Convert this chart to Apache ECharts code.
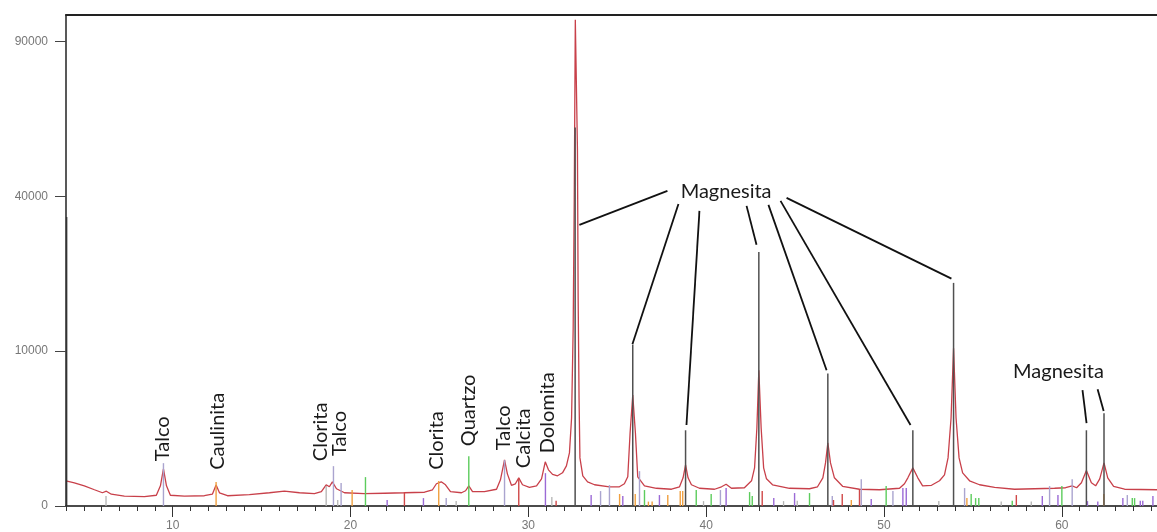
<!DOCTYPE html>
<html><head><meta charset="utf-8">
<script src="https://cdn.jsdelivr.net/npm/echarts@6/dist/echarts.min.js"></script>
<style>html,body{margin:0;padding:0;background:#fff}#c{width:1157px;height:532px}</style>
</head><body><div id="c"></div>
<script>
// ---- tick labels ----
const xTickLabels = [10, 20, 30, 40, 50, 60];
const yTickLabels = [0, 10000, 40000, 90000];

// ---- measured profile (2theta deg, counts) ----
const profile2Theta = [4.0,4.47,5.03,5.6,6.05,6.27,6.55,7.28,8.41,9.08,9.31,9.48,9.65,9.87,10.66,11.78,12.23,12.44,12.63,13.08,14.31,15.44,16.28,17.13,17.97,18.36,18.63,18.81,18.98,19.21,19.66,20.78,21.91,23.03,24.16,24.61,24.83,25.1,25.34,25.62,26.24,26.47,26.65,26.86,27.53,28.21,28.43,28.66,28.82,29.05,29.27,29.46,29.67,30.06,30.46,30.74,30.95,31.13,31.36,31.64,31.92,32.14,32.31,32.43,32.52,32.58,32.64,32.71,32.76,32.8,32.85,32.9,33.06,33.33,33.72,34.56,35.12,35.4,35.59,35.72,35.87,36.02,36.15,36.53,37.2,38.05,38.5,38.7,38.84,38.98,39.17,39.62,40.47,40.86,41.12,41.42,42.15,42.55,42.72,42.85,42.96,43.09,43.23,43.39,43.73,44.68,45.81,46.26,46.56,46.71,46.84,46.99,47.21,47.67,48.62,49.75,50.87,51.15,51.34,51.62,51.9,52.17,52.67,53.12,53.4,53.6,53.77,53.91,54.05,54.22,54.42,54.81,55.37,56.22,57.34,58.46,59.59,60.21,60.58,60.83,61.1,61.38,61.66,61.9,62.13,62.37,62.58,62.91,63.53,65.35];
const profileCounts = [265,224,170,110,73,91,58,40,36,48,170,575,170,48,40,44,58,182,73,44,53,73,91,73,63,85,188,154,244,124,73,63,68,73,79,110,206,244,188,85,73,97,170,85,85,117,286,887,431,179,206,331,188,146,170,308,812,545,418,380,459,672,1175,3224,13150,39310,98600,97800,53090,17940,4851,965,380,244,188,154,154,206,355,2222,5123,2222,355,170,131,117,154,331,705,331,188,131,117,154,197,131,139,265,607,2536,7683,2536,607,308,188,131,124,154,331,775,1657,775,331,162,117,110,131,206,331,607,331,170,179,265,405,965,3224,10360,3224,965,459,265,188,146,117,124,131,139,170,139,224,524,224,170,308,775,331,162,117,110];

// first recorded point (dark line at the start of the scan)
const scanStart = [[4.02, 34800]];

// ---- reference stick patterns [2theta, counts] ----
const sticksMagnesita = [[32.63,59720],[35.87,10850],[38.84,2390],[42.96,26890],[46.84,7315],[51.62,2390],[53.91,20750],[61.38,2390],[62.37,3577]];
const sticksTalco = [[9.48,765],[19.04,662],[19.47,219],[25.38,26],[28.66,875],[34.06,93],[34.56,182],[36.25,507],[40.8,106],[47.09,41],[48.72,301],[50.5,93],[54.53,134],[59.31,165],[60.58,301],[63.68,50]];
const sticksGris = [[6.25,41],[18.63,165],[19.28,15],[25.94,10],[31.32,34],[39.85,10],[44.35,10],[45.12,12],[53.08,10],[56.59,8],[58.28,8]];
const sticksCaulinita = [[12.44,238],[20.09,106],[24.96,258],[35.13,60],[36.01,60],[36.75,8],[36.96,8],[37.84,50],[38.54,93],[38.68,93],[48.16,15],[54.66,26],[62.36,60]];
const sticksCuarzo = [[20.84,348],[26.65,1034],[36.53,106],[39.44,106],[40.28,60],[42.44,81],[42.59,41],[45.81,70],[50.12,165],[54.9,60],[55.15,26],[55.33,26],[57.21,12],[60.0,165],[63.96,26],[64.09,26]];
const sticksCalcita = [[23.03,81],[29.46,324],[31.56,12],[43.15,93],[47.16,15],[47.65,60],[48.62,114],[57.44,50]];
const sticksDolomita = [[22.06,15],[24.1,26],[30.96,450],[33.53,50],[35.31,41],[37.37,50],[41.12,134],[43.8,26],[44.97,70],[49.28,20],[51.06,134],[51.25,134],[58.9,41],[59.78,50],[61.44,10],[62.02,8],[63.43,26],[64.41,12],[64.55,12],[65.12,41]];

// ---- annotations ----
const mineralNames = ['Talco','Caulinita','Clorita','Talco','Clorita','Quartzo','Talco','Calcita','Dolomita'];
const mineral2Theta = [9.45,12.54,18.31,19.38,24.86,26.66,28.63,29.75,31.1];
const mineralBaseCounts = [837,545,837,1046,545,1489,1297,597,1162];
const magnesitaLabels = [[41.12,41120],[59.81,7570]];
const leaderLines = [
  [[32.87,32950],[37.82,41380]],
  [[38.44,38040],[35.85,10900]],
  [[39.62,36300],[38.89,2734]],
  [[42.27,37540],[42.83,28450]],
  [[43.5,37790],[46.77,7683]],
  [[44.18,38800],[51.49,2734]],
  [[44.52,39560],[53.79,21550]],
  [[61.16,5594],[61.39,2870]],
  [[62.01,5690],[62.35,3756]]
];

// ---- build chart (square-root intensity scale) ----
const S = c => Math.sqrt(c);
const X_MIN = 4, X_MAX = 65.35, Y_MAX = 317.0;
const LABEL_FONT = '20px Lato, "Liberation Sans", sans-serif';

function stickSeries(name, data, color, width, z) {
  return {
    type: 'custom', name, z, silent: true, clip: true,
    data: data.map(d => [d[0], S(d[1])]),
    renderItem: (p, api) => {
      const a = api.coord([api.value(0), 0]);
      const b = api.coord([api.value(0), api.value(1)]);
      return { type: 'line', shape: { x1: a[0], y1: a[1], x2: b[0], y2: b[1] },
               style: { stroke: color, lineWidth: width } };
    }
  };
}

const chart = echarts.init(document.getElementById('c'), null, { renderer: 'canvas' });
const option = {
  animation: false,
  grid: { left: 66, right: 0, top: 15, bottom: 24, containLabel: false },
  xAxis: [
    { type: 'value', min: X_MIN, max: X_MAX, interval: 1, position: 'bottom',
      axisLine: { lineStyle: { color: '#111', width: 1.5 } },
      axisTick: { length: 5, lineStyle: { color: '#333', width: 1 } },
      axisLabel: { customValues: xTickLabels, color: '#777', fontSize: 12, margin: 14,
                   fontFamily: 'Liberation Sans, Arial, sans-serif' },
      splitLine: { show: false } },
    { type: 'value', min: X_MIN, max: X_MAX, position: 'bottom',
      axisLine: { show: false },
      axisTick: { customValues: xTickLabels, length: 11, lineStyle: { color: '#333', width: 1 } },
      axisLabel: { show: false }, splitLine: { show: false } },
    { type: 'value', min: X_MIN, max: X_MAX, position: 'top',
      axisLine: { lineStyle: { color: '#222', width: 2 } },
      axisTick: { show: false }, axisLabel: { show: false }, splitLine: { show: false } }
  ],
  yAxis: {
    type: 'value', min: 0, max: Y_MAX, interval: 100,
    axisLine: { show: true, lineStyle: { color: '#222', width: 1.5 } },
    axisTick: { show: true, length: 11, customValues: yTickLabels.map(S), lineStyle: { color: '#444' } },
    axisLabel: { customValues: yTickLabels.map(S), formatter: v => String(Math.round(v * v)),
                 color: '#777', fontSize: 12, margin: 18, fontFamily: 'Liberation Sans, Arial, sans-serif' },
    splitLine: { show: false }
  },
  series: [
    { type: 'line', name: 'perfil', z: 2, silent: true, showSymbol: false,
      data: profile2Theta.map((x, i) => [x, S(profileCounts[i])]),
      lineStyle: { color: '#c8404a', width: 1.3 } },
    stickSeries('inicio', scanStart, '#333', 2, 3),
    stickSeries('gris', sticksGris, '#b4b4b4', 1.3, 3),
    stickSeries('talco', sticksTalco, '#aaa4cf', 1.4, 3),
    stickSeries('caulinita', sticksCaulinita, '#f0a040', 1.4, 3),
    stickSeries('cuarzo', sticksCuarzo, '#5ccc5c', 1.4, 3),
    stickSeries('calcita', sticksCalcita, '#d04848', 1.4, 3),
    stickSeries('dolomita', sticksDolomita, '#9b6ad6', 1.4, 3),
    stickSeries('magnesita', sticksMagnesita, '#505050', 1.5, 4),
    { type: 'custom', name: 'guias', z: 5, silent: true, clip: false,
      data: leaderLines.map(l => [l[0][0], S(l[0][1]), l[1][0], S(l[1][1])]),
      encode: { x: [0, 2], y: [1, 3] },
      renderItem: (p, api) => {
        const a = api.coord([api.value(0), api.value(1)]);
        const b = api.coord([api.value(2), api.value(3)]);
        return { type: 'line', shape: { x1: a[0], y1: a[1], x2: b[0], y2: b[1] },
                 style: { stroke: '#111', lineWidth: 1.8 } };
      } },
    { type: 'custom', name: 'minerales', z: 6, silent: true, clip: false,
      data: mineral2Theta.map((x, i) => [x, S(mineralBaseCounts[i])]),
      renderItem: (p, api) => {
        const a = api.coord([api.value(0), api.value(1)]);
        return { type: 'text', x: a[0], y: a[1], rotation: Math.PI / 2,
                 style: { text: mineralNames[p.dataIndex], font: LABEL_FONT,
                          fill: '#1a1a1a', align: 'left', verticalAlign: 'middle' } };
      } },
    { type: 'custom', name: 'magnesita-texto', z: 6, silent: true, clip: false,
      data: magnesitaLabels.map(d => [d[0], S(d[1])]),
      renderItem: (p, api) => {
        const a = api.coord([api.value(0), api.value(1)]);
        return { type: 'text', x: a[0], y: a[1],
                 style: { text: 'Magnesita', font: LABEL_FONT,
                          fill: '#1a1a1a', align: 'center', verticalAlign: 'middle' } };
      } }
  ]
};
chart.setOption(option);
</script>
</body></html>
